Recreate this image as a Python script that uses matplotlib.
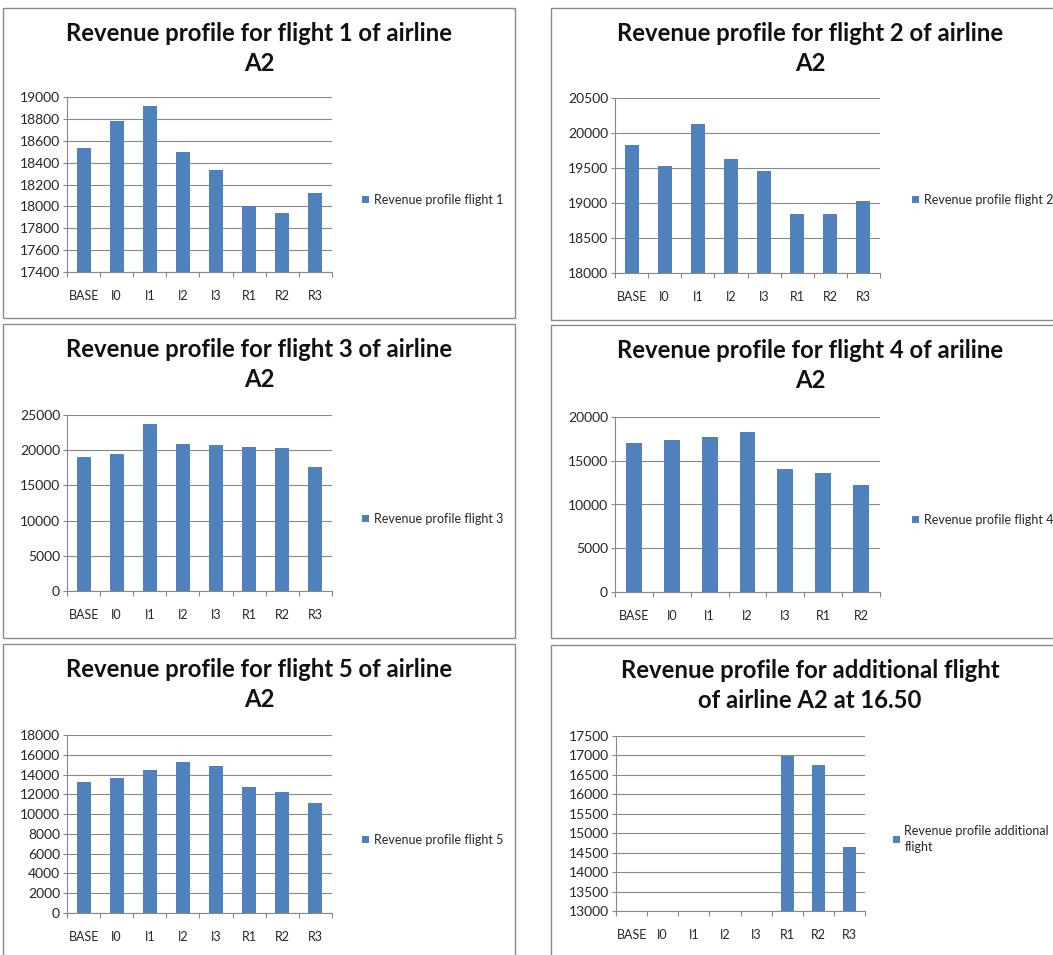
"""
Revenue profiles per flight of airline A2 (six bar panels)
"""

import matplotlib
matplotlib.use('Agg')
import matplotlib.pyplot as plt
from matplotlib.patches import Rectangle
import numpy as np

plt.rcParams['font.family'] = ['Lato', 'DejaVu Sans']

# Data
cats_8 = ['BASE', 'I0', 'I1', 'I2', 'I3', 'R1', 'R2', 'R3']
cats_7 = ['BASE', 'I0', 'I1', 'I2', 'I3', 'R1', 'R2']

flight1 = [18535, 18777, 18918, 18499, 18331, 18005, 17937, 18124]
flight2 = [19826, 19534, 20132, 19625, 19463, 18841, 18841, 19028]
flight3 = [19034, 19508, 23769, 20881, 20691, 20407, 20265, 17661]
flight4 = [17002, 17381, 17761, 18330, 14080, 13586, 12220]
flight5 = [13232, 13670, 14444, 15320, 14848, 12694, 12256, 11077]
additional = [0, 0, 0, 0, 0, 16975, 16758, 14644]

titles = [
    'Revenue profile for flight 1 of airline\nA2',
    'Revenue profile for flight 2 of airline\nA2',
    'Revenue profile for flight 3 of airline\nA2',
    'Revenue profile for flight 4 of ariline\nA2',
    'Revenue profile for flight 5 of airline\nA2',
    'Revenue profile for additional flight\nof airline A2 at 16.50',
]
legend_labels = [
    'Revenue profile flight 1',
    'Revenue profile flight 2',
    'Revenue profile flight 3',
    'Revenue profile flight 4',
    'Revenue profile flight 5',
    'Revenue profile additional\nflight',
]
y_ranges = [(17400, 19000, 200), (18000, 20500, 500), (0, 25000, 5000),
            (0, 20000, 5000), (0, 18000, 2000), (13000, 17500, 500)]

series = [(cats_8, flight1), (cats_8, flight2), (cats_8, flight3),
          (cats_7, flight4), (cats_8, flight5), (cats_8, additional)]

W, H = 1053, 955
BAR = '#4F81BD'
GRID = '#888888'
TXT = '#262626'

fig = plt.figure(figsize=(W / 100, H / 100), dpi=100)


def px_rect(x0, y0, x1, y1):
    """pixel box (top-left origin) -> figure fraction [l, b, w, h]"""
    return [x0 / W, 1 - y1 / H, (x1 - x0) / W, (y1 - y0) / H]


# panel frames (left, top, right, bottom) in pixels
frames = [(3, 8, 515, 318), (551, 8, 1070, 320),
          (3, 324, 515, 638), (551, 325, 1070, 638),
          (3, 644, 515, 970), (551, 645, 1070, 970)]
# plot areas in pixels
plots = [(67, 97, 332, 272), (615, 98, 880, 273),
         (67, 415, 332, 591), (615, 417, 880, 592),
         (67, 735, 332, 913), (616, 736, 865, 911)]
title_x = [259, 810, 259, 810, 259, 810]
legend_pos = [(356, 200), (906, 200), (356, 519), (906, 520), (356, 840), (887, 839)]

for fx0, fy0, fx1, fy1 in frames:
    fig.patches.append(Rectangle((fx0 / W, 1 - fy1 / H), (fx1 - fx0) / W, (fy1 - fy0) / H,
                                 transform=fig.transFigure, fill=False,
                                 edgecolor='#8a8a8a', linewidth=1.0))

for i, ((cats, vals), (lo, hi, step)) in enumerate(zip(series, y_ranges)):
    ax = fig.add_axes(px_rect(*plots[i]))
    x = np.arange(len(cats))
    ax.bar(x, vals, width=0.42, color=BAR, label=legend_labels[i], zorder=3)

    ax.set_xlim(-0.5, len(cats) - 0.5)
    ax.set_ylim(lo, hi)
    ax.set_yticks(np.arange(lo, hi + step, step))
    ax.set_xticks(x)
    ax.set_xticklabels(cats)
    ax.set_xticks(np.arange(-0.5, len(cats), 1), minor=True)

    ax.yaxis.grid(True, color=GRID, linewidth=0.8, zorder=0)
    for s in ['top', 'right']:
        ax.spines[s].set_visible(False)
    for s in ['left', 'bottom']:
        ax.spines[s].set_color(GRID)
        ax.spines[s].set_linewidth(0.8)

    ax.tick_params(axis='x', which='major', length=0, pad=13, labelsize=9, colors=TXT)
    ax.tick_params(axis='x', which='minor', length=3.5, width=0.8, color=GRID)
    ax.tick_params(axis='y', length=3, width=0.8, color=GRID, pad=2,
                   labelsize=10, labelcolor=TXT)

    fig.text(title_x[i] / W, 1 - 48.5 / H - (frames[i][1] - 8) / H, titles[i],
             ha='center', va='center', fontsize=17.2, fontweight='bold',
             linespacing=1.32, color='#111111')

    lx, ly = legend_pos[i]
    leg = ax.legend(loc='center left', bbox_to_anchor=(lx / W, 1 - ly / H),
                    bbox_transform=fig.transFigure, frameon=False, fontsize=9.0,
                    handlelength=0.55, handleheight=0.55, handletextpad=0.35,
                    borderpad=0, labelspacing=0.2, labelcolor=TXT)
    for t in leg.get_texts():
        t.set_linespacing(1.45)

plt.savefig('out.png', dpi=100)
plt.close()
